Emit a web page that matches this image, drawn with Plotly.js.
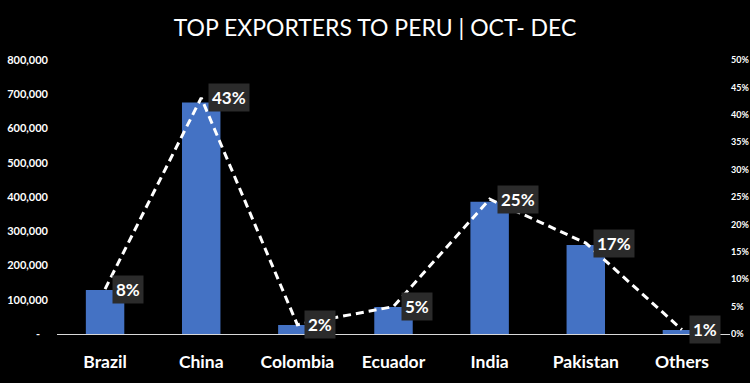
<!DOCTYPE html>
<html>
<head>
<meta charset="utf-8">
<script src="https://cdn.plot.ly/plotly-3.0.1.min.js"></script>
<style>html,body{margin:0;padding:0;background:#000;}#chart{width:750px;height:383px;}</style>
</head>
<body>
<div id="chart"></div>
<script>
const categories = ['Brazil', 'China', 'Colombia', 'Ecuador', 'India', 'Pakistan', 'Others'];
const exportValues = [128600, 676000, 26000, 79000, 386000, 260000, 12000];
const sharePct = [0.082, 0.431, 0.017, 0.050, 0.246, 0.166, 0.008];
const leftTickVals = [0, 100000, 200000, 300000, 400000, 500000, 600000, 700000, 800000];
const leftTickText = ['-\u00a0\u00a0\u00a0', '100,000', '200,000', '300,000', '400,000', '500,000', '600,000', '700,000', '800,000'];
const rightTickVals = [0, 0.05, 0.10, 0.15, 0.20, 0.25, 0.30, 0.35, 0.40, 0.45, 0.50];

const barTrace = {
  type: 'bar', x: categories, y: exportValues,
  marker: {color: '#4472C4'}, hoverinfo: 'skip'
};
const lineTrace = {
  type: 'scatter', mode: 'lines', x: categories, y: sharePct, yaxis: 'y2',
  line: {color: '#ffffff', width: 3, dash: '8px,5px'}, hoverinfo: 'skip'
};

const annotations = categories.map((c, i) => ({
  x: c, y: sharePct[i], xref: 'x', yref: 'y2',
  text: Math.round(sharePct[i] * 100) + '%',
  showarrow: false, xanchor: 'left', yanchor: 'middle', xshift: 7,
  bgcolor: '#2b2b2b', borderpad: 3,
  font: {family: 'Lato', size: 17, color: '#ffffff', weight: 'bold'}
}));

const layout = {
  width: 750, height: 383,
  paper_bgcolor: '#000000', plot_bgcolor: '#000000',
  margin: {l: 57, r: 20, t: 60, b: 49},
  showlegend: false,
  bargap: 0.6,
  title: {
    text: 'TOP EXPORTERS TO PERU | OCT- DEC',
    font: {family: 'Lato', size: 23, color: '#ffffff'},
    x: 0.5, xref: 'container', y: 0.926, yref: 'container', yanchor: 'middle'
  },
  xaxis: {
    showline: true, linecolor: '#d9d9d9', linewidth: 1, showgrid: false, zeroline: false,
    ticks: '', ticklabelstandoff: 12,
    tickfont: {family: 'Lato', size: 17.5, color: '#ffffff', weight: 'bold'}
  },
  yaxis: {
    range: [0, 800000], tickvals: leftTickVals, ticktext: leftTickText,
    showgrid: false, zeroline: false, showline: false, ticks: '',
    ticklabelstandoff: 8,
    tickfont: {family: 'Lato', size: 11, color: '#ffffff', weight: 'bold'}
  },
  yaxis2: {
    overlaying: 'y', side: 'right', range: [0, 0.5], tickvals: rightTickVals,
    tickformat: '.0%', showgrid: false, zeroline: false, showline: false, ticks: '',
    ticklabelstandoff: 0,
    tickfont: {family: 'Lato', size: 9, color: '#ffffff', weight: 'bold'}
  },
  annotations: annotations
};

Plotly.newPlot('chart', [barTrace, lineTrace], layout, {displayModeBar: false, staticPlot: true});
</script>
</body>
</html>
